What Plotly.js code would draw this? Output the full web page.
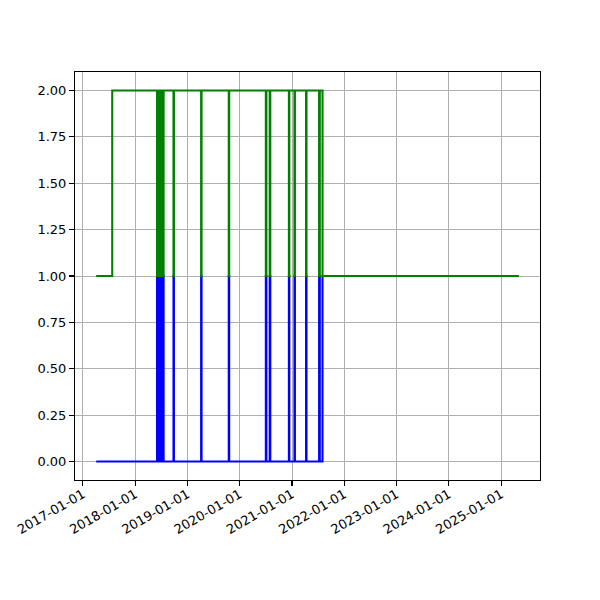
<!DOCTYPE html>
<html>
<head>
<meta charset="utf-8">
<script src="https://cdn.plot.ly/plotly-3.0.1.min.js"></script>
<style>html,body{margin:0;padding:0;background:#fff;}#chart{width:600px;height:600px;}</style>
</head>
<body>
<div id="chart"></div>
<script>
// Event dates (state changes) shared by both series
const eventDates = [
  '2017-04-04','2017-07-25',
  '2018-06-03','2018-06-06','2018-06-11','2018-06-14','2018-06-19','2018-06-23',
  '2018-06-26','2018-07-03','2018-07-07','2018-07-11','2018-07-15','2018-07-19',
  '2018-09-26','2018-09-29',
  '2019-04-07','2019-04-10',
  '2019-10-17','2019-10-20',
  '2020-07-02','2020-07-06','2020-07-29','2020-08-02',
  '2020-12-10','2020-12-13',
  '2021-01-18','2021-01-21',
  '2021-04-09','2021-04-12',
  '2021-07-09','2021-07-14',
  '2021-08-02','2021-08-08'
];
const blueValues = [
  0,0,
  1,0,1,0,1,0,
  1,0,1,0,1,0,
  1,0,
  1,0,
  1,0,
  1,0,1,0,
  1,0,
  1,0,
  1,0,
  1,0,
  1,1
];
const greenValues = [
  1,2,
  1,2,1,2,1,2,
  1,2,1,2,1,2,
  1,2,
  1,2,
  1,2,
  1,2,1,2,
  1,2,
  1,2,
  1,2,
  1,2,
  1,1
];
// Green series continues after the last event
const greenTailDates = ['2025-05-05'];
const greenTailValues = [1];

const yTicks = [0, 0.25, 0.5, 0.75, 1.0, 1.25, 1.5, 1.75, 2.0];
const xTickDates = ['2017-01-01','2018-01-01','2019-01-01','2020-01-01','2021-01-01',
                    '2022-01-01','2023-01-01','2024-01-01','2025-01-01'];

const font = {family: 'DejaVu Sans, sans-serif', size: 13, color: '#000'};

const traces = [
  {
    x: eventDates, y: blueValues, type: 'scatter', mode: 'lines',
    line: {color: '#0000ff', width: 2.08, shape: 'hv'}, hoverinfo: 'skip'
  },
  {
    x: eventDates.concat(greenTailDates), y: greenValues.concat(greenTailValues),
    type: 'scatter', mode: 'lines',
    line: {color: '#008000', width: 2.08, shape: 'hv'}, hoverinfo: 'skip'
  }
];

const layout = {
  width: 600, height: 600,
  margin: {l: 75, r: 60, t: 72, b: 120, pad: 0},
  paper_bgcolor: '#fff', plot_bgcolor: '#fff',
  showlegend: false,
  font: font,
  xaxis: {
    type: 'date',
    range: ['2016-11-07', '2025-09-29'],
    tickmode: 'array', tickvals: xTickDates, ticktext: xTickDates,
    tickangle: -30,
    ticklabelstandoff: -4,
    showgrid: true, gridcolor: '#b0b0b0', gridwidth: 1,
    showline: true, linecolor: '#000', linewidth: 1.1, mirror: true,
    ticks: 'outside', ticklen: 4.9, tickwidth: 1.1, tickcolor: '#000',
    zeroline: false, tickfont: font
  },
  yaxis: {
    range: [-0.1, 2.1],
    tickmode: 'array', tickvals: yTicks, ticktext: yTicks.map(v => v.toFixed(2)),
    showgrid: true, gridcolor: '#b0b0b0', gridwidth: 1,
    showline: true, linecolor: '#000', linewidth: 1.1, mirror: true,
    ticks: 'outside', ticklen: 4.9, tickwidth: 1.1, tickcolor: '#000',
    zeroline: false, tickfont: font
  }
};

Plotly.newPlot('chart', traces, layout, {staticPlot: true, displayModeBar: false});
</script>
</body>
</html>
